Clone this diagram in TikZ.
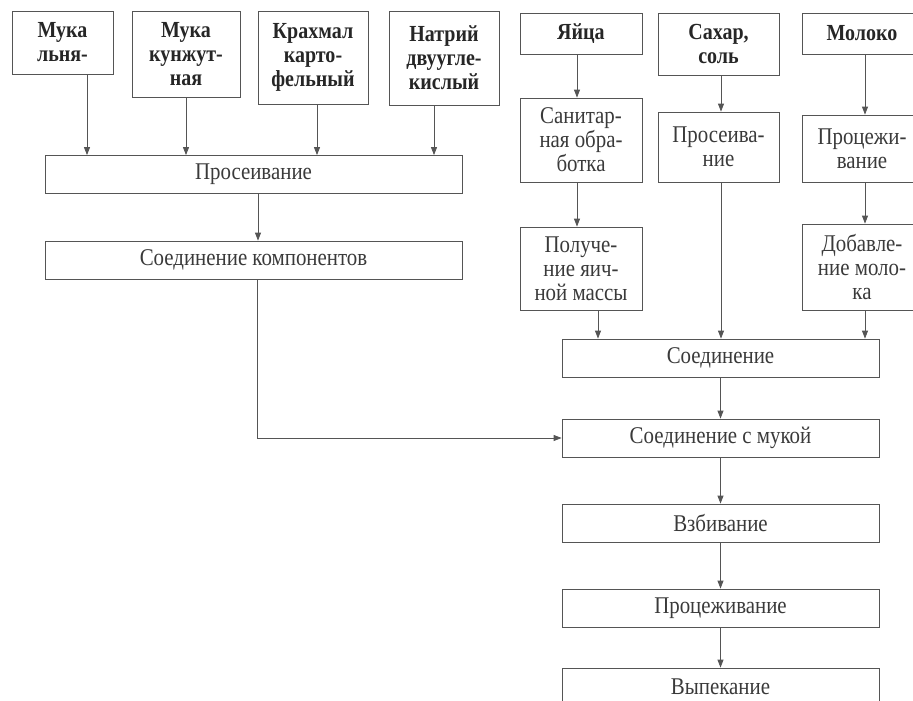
\documentclass[tikz,border=0pt]{standalone}
\usepackage{fontspec}
\setmainfont{Liberation Serif}[FakeStretch=0.87]
\usepackage{tikz}
\usetikzlibrary{arrows.meta}
\usetikzlibrary{positioning}

\definecolor{linegray}{HTML}{555555}
\definecolor{textgray}{HTML}{3A3A3A}

\begin{document}
\begin{tikzpicture}
	[
	x=1pt, y=-1pt,
	> = {Triangle[length=8pt,width=6pt]},
	every node/.style = {font=\fontsize{24}{24}\selectfont},
	box/.style = {draw=linegray, line width=0.8pt, inner sep=1pt, align=center, text=textgray},
	ingr/.style = {box, font=\fontsize{23}{24}\selectfont\bfseries, text=black!85},
	wide/.style = {box, minimum width=417, minimum height=38},
	main/.style = {box, minimum width=317, minimum height=38},
	arr/.style = {->, draw=linegray, line width=0.8pt}
	]
	\useasboundingbox (0,0) rectangle (913,701);
	\clip (0,0) rectangle (913,701);

	% dry components
	\node[ingr, minimum width=101, minimum height=63] (flax) at (62.5,42.5) {Мука\\льня-};
	\node[ingr, minimum width=108, minimum height=86] (sesame) at (186,54) {Мука\\кунжут-\\ная};
	\node[ingr, minimum width=110, minimum height=93] (starch) at (313,57.5) {Крахмал\\карто-\\фельный};
	\node[ingr, minimum width=110, minimum height=94] (soda) at (444,58) {Натрий\\двуугле-\\кислый};
	\node[wide] (sift) at (253.5,174.5) {Просеивание};
	\node[wide] (mixdry) at (253.5,260) {Соединение компонентов};

	% eggs, sugar, milk
	\node[ingr, minimum width=122, minimum height=41] (eggs) at (581,33.5) {Яйца};
	\node[ingr, minimum width=121, minimum height=62] (sugar) at (718.5,44) {Сахар,\\соль};
	\node[ingr, minimum width=120, minimum height=41] (milk) at (862,33.5) {Молоко};
	\node[box, minimum width=122, minimum height=84] (sanit) at (581,140) {Санитар-\\ная обра-\\ботка};
	\node[box, minimum width=121, minimum height=70] (siftsug) at (718.5,147) {Просеива-\\ние};
	\node[box, minimum width=120, minimum height=67] (strainmilk) at (862,148.5) {Процежи-\\вание};
	\node[box, minimum width=122, minimum height=83] (eggmass) at (581,268.5) {Получе-\\ние яич-\\ной массы};
	\node[box, minimum width=120, minimum height=86] (addmilk) at (862,267) {Добавле-\\ние моло-\\ка};

	% main line
	\node[main] (join) at (720.5,358) {Соединение};
	\node[main] (joinflour) at (720.5,438) {Соединение с мукой};
	\node[main] (whip) at (720.5,523) {Взбивание};
	\node[main] (strain) at (720.5,608) {Процеживание};
	\node[main] (bake) at (720.5,687) {Выпекание};

	\draw[arr] ([xshift=24.5pt]flax.south) -- ([xshift=24.5pt]flax.south |- sift.north);
	\draw[arr] (sesame.south) -- (sesame.south |- sift.north);
	\draw[arr] ([xshift=4pt]starch.south) -- ([xshift=4pt]starch.south |- sift.north);
	\draw[arr] ([xshift=-10pt]soda.south) -- ([xshift=-10pt]soda.south |- sift.north);
	\draw[arr] ([xshift=4.5pt]sift.south) -- ([xshift=4.5pt]mixdry.north);
	\draw[arr] ([xshift=4pt]mixdry.south) |- (joinflour.west);

	\draw[arr] ([xshift=-4pt]eggs.south) -- ([xshift=-4pt]sanit.north);
	\draw[arr] ([xshift=-4pt]sanit.south) -- ([xshift=-4pt]eggmass.north);
	\draw[arr] ([xshift=17pt]eggmass.south) -- ([xshift=17pt]eggmass.south |- join.north);
	\draw[arr] ([xshift=2.5pt]sugar.south) -- ([xshift=2.5pt]siftsug.north);
	\draw[arr] ([xshift=2.5pt]siftsug.south) -- ([xshift=2.5pt]siftsug.south |- join.north);
	\draw[arr] ([xshift=3pt]milk.south) -- ([xshift=3pt]strainmilk.north);
	\draw[arr] ([xshift=3pt]strainmilk.south) -- ([xshift=3pt]addmilk.north);
	\draw[arr] ([xshift=3pt]addmilk.south) -- ([xshift=3pt]addmilk.south |- join.north);

	\draw[arr] (join) -- (joinflour);
	\draw[arr] (joinflour) -- (whip);
	\draw[arr] (whip) -- (strain);
	\draw[arr] (strain) -- (bake);
\end{tikzpicture}
\end{document}
